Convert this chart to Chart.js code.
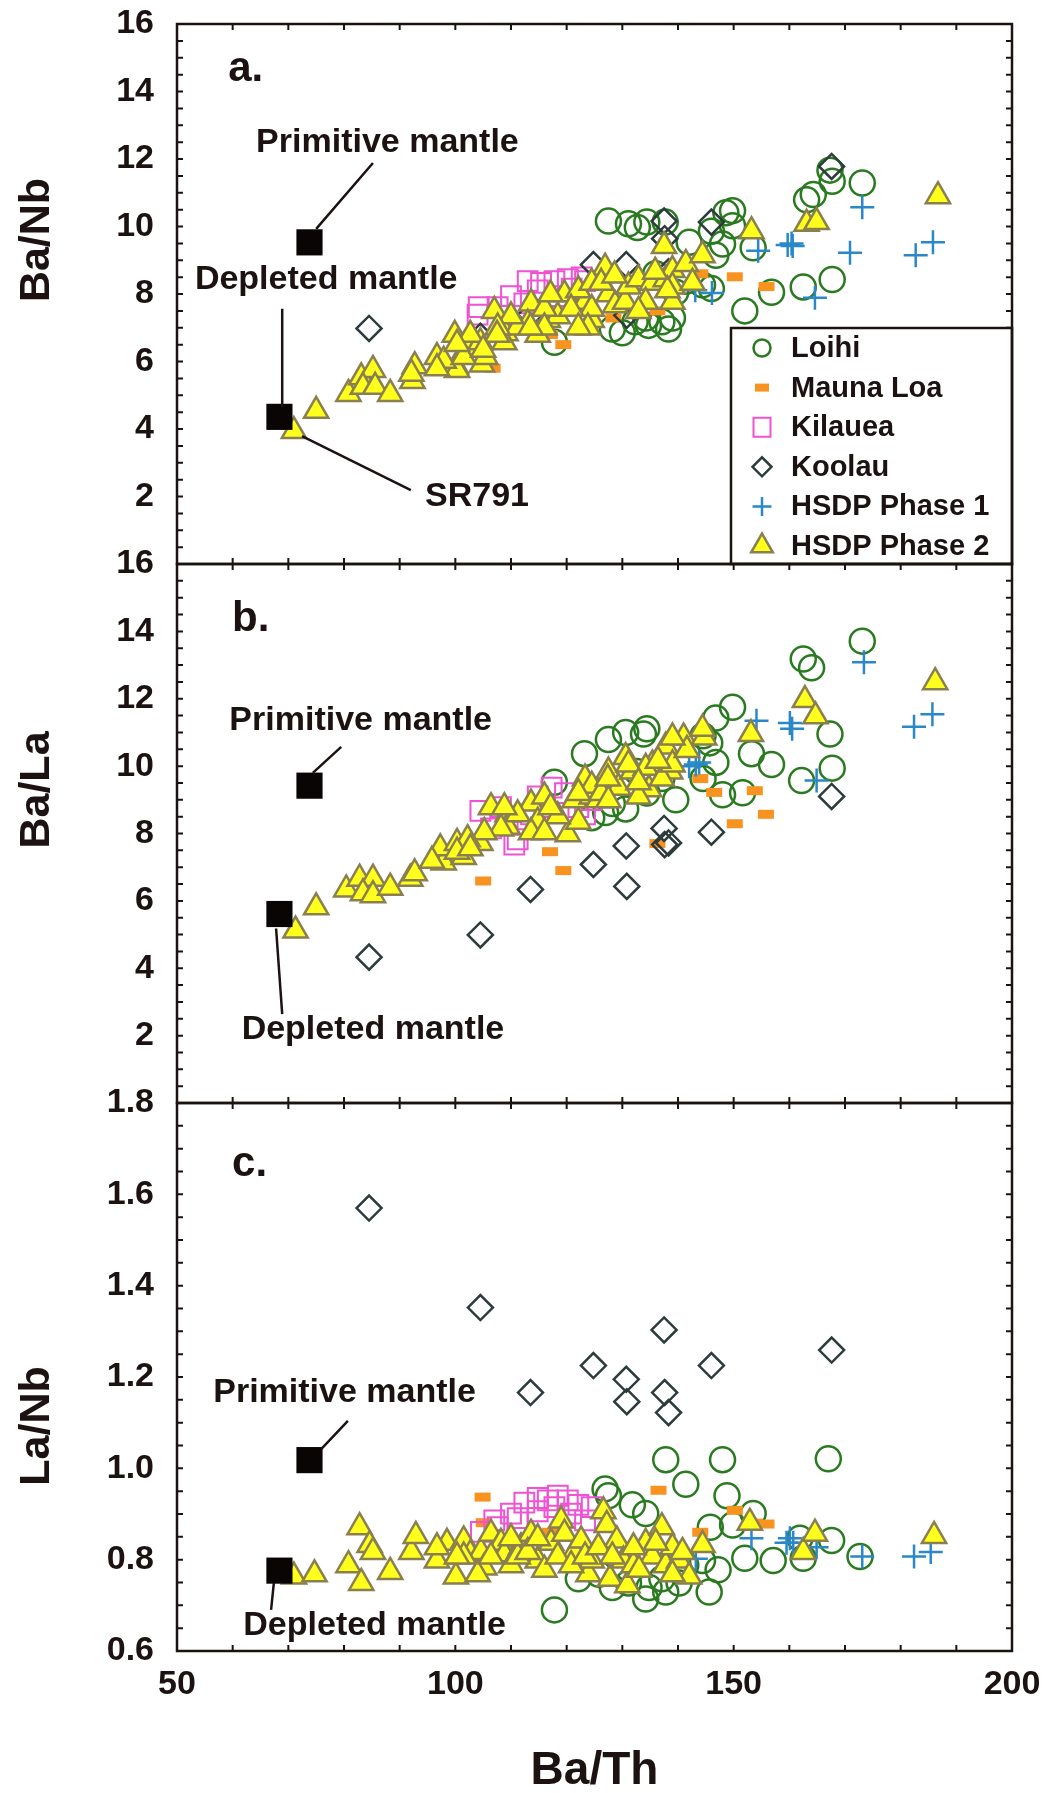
<!DOCTYPE html>
<html lang="en">
<head>
<meta charset="UTF-8">
<title>Ba/Th vs Ba/Nb, Ba/La and La/Nb</title>
<script src="https://cdn.jsdelivr.net/npm/chart.js"></script>
<style>
  body { margin: 0; background: #fff; }
  .page { position: relative; width: 1054px; height: 1793px; overflow: hidden; background: #fff; }
  canvas { position: absolute; left: 0; }
  #panelA { top: 0; }
  #panelB { top: 530px; }
  #panelC { top: 1070px; }
</style>
</head>
<body>
<div class="page">
  <canvas id="panelA" width="1054" height="600"></canvas>
  <canvas id="panelB" width="1054" height="610"></canvas>
  <canvas id="panelC" width="1054" height="723"></canvas>
</div>
<script>
// ---- tick labels ----
const baThTicks = [50, 100, 150, 200];
const baNbTicks = [2, 4, 6, 8, 10, 12, 14, 16];
const baLaTicks = [2, 4, 6, 8, 10, 12, 14, 16];
const laNbTicks = [0.6, 0.8, 1.0, 1.2, 1.4, 1.6, 1.8];

// ---- reference compositions (primitive, depleted) ----
const mantleBaTh = [73.8, 68.4];
const mantleBaNb = [9.53, 4.36];
const mantleBaLa = [9.42, 5.61];
const mantleLaNb = [1.018, 0.776];

// ---- Loihi ----
const loihiBaTh_a = [127.5, 131.1, 134.4, 132.7, 137.7, 142.0, 146.0, 148.6, 149.8, 148.0, 146.8, 141.4, 139.6, 146.0, 152.0, 156.8, 162.5, 167.7, 163.1, 164.3, 167.7, 173.1, 167.3, 136.0, 132.3, 134.7, 137.1, 138.3, 130.0, 128.2, 117.8, 134.2, 139.0, 144.4, 153.5, 149.8];
const loihiBaNb = [10.16, 10.08, 10.13, 9.97, 10.13, 9.53, 9.86, 10.41, 10.47, 9.48, 9.15, 8.38, 8.05, 8.16, 7.50, 8.05, 8.21, 8.43, 10.79, 10.95, 11.34, 11.29, 11.67, 8.6, 7.18, 7.07, 7.18, 6.96, 6.85, 6.96, 6.57, 7.29, 7.29, 8.27, 9.37, 10.02];
const loihiBaTh_b = [173.1, 162.5, 164.0, 149.8, 146.8, 167.3, 167.7, 162.2, 156.8, 153.2, 146.8, 148.0, 151.6, 134.4, 133.8, 127.5, 130.6, 123.2, 139.6, 130.6, 124.5, 127.0, 117.8, 132.6, 137.1, 145.7, 144.5, 134.4, 128.2, 144.5];
const loihiBaLa = [13.71, 13.18, 12.92, 11.75, 11.43, 10.95, 9.94, 9.57, 10.05, 10.37, 10.11, 9.15, 9.21, 11.11, 10.95, 10.79, 11.0, 10.37, 9.0, 8.73, 8.47, 8.62, 9.52, 9.84, 9.63, 10.69, 9.63, 9.2, 8.89, 10.9];
const loihiBaTh_c = [117.8, 137.8, 148.0, 167.0, 141.4, 148.8, 126.9, 127.5, 131.8, 134.2, 149.8, 153.5, 145.8, 167.6, 162.5, 161.9, 152.0, 157.1, 172.7, 147.2, 145.6, 134.2, 134.8, 137.8, 137.1, 140.2, 131.1, 128.2, 125.8, 122.1, 144.4, 141.4];
const loihiLaNb = [0.690, 1.019, 1.019, 1.021, 0.965, 0.940, 0.955, 0.940, 0.920, 0.901, 0.876, 0.901, 0.871, 0.842, 0.803, 0.847, 0.803, 0.798, 0.807, 0.778, 0.729, 0.714, 0.739, 0.729, 0.758, 0.749, 0.749, 0.739, 0.768, 0.758, 0.798, 0.788];

// ---- Mauna Loa ----
const maunaLoaBaTh_a = [106.7, 117.0, 119.4, 128.4, 136.3, 144.0, 150.2, 155.9];
const maunaLoaBaNb = [5.8, 6.8, 6.5, 7.29, 7.5, 8.6, 8.51, 8.22];
const maunaLoaBaTh_b = [105.0, 117.0, 119.4, 136.3, 144.0, 146.5, 150.2, 153.8, 155.8];
const maunaLoaBaLa = [6.59, 7.46, 6.90, 7.70, 9.63, 9.22, 8.29, 9.27, 8.57];
const maunaLoaBaTh_c = [104.9, 105.1, 117.0, 119.4, 136.5, 144.0, 150.2, 153.8, 155.9];
const maunaLoaLaNb = [0.937, 0.881, 0.86, 0.87, 0.952, 0.86, 0.908, 0.88, 0.878];

// ---- Kilauea ----
const kilaueaBaTh_a = [104.0, 104.2, 107.6, 110.0, 112.4, 113.0, 114.8, 115.4, 117.8, 118.4, 120.2, 120.9, 122.7, 123.3];
const kilaueaBaNb = [7.39, 7.61, 7.61, 7.94, 7.72, 8.38, 8.11, 8.33, 8.38, 7.94, 8.44, 8.16, 8.49, 8.38];
const kilaueaBaTh_b = [104.5, 106.4, 108.2, 109.4, 110.6, 111.2, 113.6, 114.8, 116.0, 117.3, 119.7, 122.1, 123.3, 124.5];
const kilaueaBaLa = [8.67, 8.15, 8.78, 8.36, 7.67, 7.83, 8.57, 9.10, 8.78, 9.36, 9.20, 8.78, 8.57, 8.99];
const kilaueaBaTh_c = [104.6, 107.0, 107.6, 110.0, 111.2, 112.4, 114.8, 114.8, 116.6, 117.8, 118.4, 120.2, 120.8, 122.1, 123.3, 124.5];
const kilaueaLaNb = [0.861, 0.886, 0.871, 0.901, 0.891, 0.925, 0.935, 0.906, 0.930, 0.915, 0.940, 0.930, 0.901, 0.920, 0.886, 0.915];

// ---- Koolau (same samples in every panel) ----
const koolauBaTh = [84.5, 104.5, 113.5, 124.8, 130.7, 130.8, 137.5, 137.6, 138.3, 146.0, 167.6];
const koolauBaNb = [6.98, 6.75, 7.39, 8.87, 8.87, 7.37, 10.16, 9.64, 8.66, 10.13, 11.78];
const koolauBaLa = [4.33, 4.99, 6.34, 7.08, 7.63, 6.43, 8.15, 7.67, 7.72, 8.04, 9.10];
const koolauLaNb = [1.570, 1.352, 1.166, 1.225, 1.195, 1.146, 1.303, 1.166, 1.122, 1.225, 1.259];

// ---- HSDP Phase 1 ----
const hsdp1BaTh_a = [143.1, 146.1, 154.4, 159.7, 160.4, 160.6, 164.6, 170.9, 173.1, 182.7, 185.8];
const hsdp1BaNb = [8.11, 8.03, 9.28, 9.45, 9.50, 9.42, 7.89, 9.22, 10.57, 9.15, 9.53];
const hsdp1BaTh_b = [142.0, 143.2, 143.8, 154.1, 160.1, 160.5, 164.9, 173.4, 182.4, 185.7];
const hsdp1BaLa = [10.0, 10.05, 10.11, 11.35, 11.28, 11.11, 9.57, 13.08, 11.17, 11.54];
const hsdp1BaTh_c = [139.0, 143.2, 153.2, 159.5, 160.1, 160.7, 164.9, 173.1, 182.4, 185.4];
const hsdp1LaNb = [0.807, 0.802, 0.847, 0.837, 0.847, 0.837, 0.827, 0.807, 0.807, 0.817];

// ---- HSDP Phase 2 ----
const hsdp2BaTh_a = [71.0, 75.0, 80.8, 83.1, 85.2, 83.4, 85.6, 88.3, 92.3, 92.7, 96.7, 99.9, 100.1, 100.3, 97.9, 102.7, 104.5, 104.8, 105.4, 107.0, 109.0, 108.8, 113.6, 113.0, 114.8, 116.6, 118.4, 119.6, 123.3, 124.5, 124.5, 126.9, 127.5, 128.7, 130.5, 131.1, 132.9, 135.3, 137.5, 137.8, 139.0, 139.0, 139.0, 141.4, 142.6, 144.4, 153.2, 163.1, 164.9, 186.7, 122.1, 116.0, 124.5, 120.8, 111.2, 110.0, 107.6, 102.7, 101.5, 96.7, 92.1, 134.2, 132.9, 123.8, 122.1, 116.0, 113.5, 107.5, 105.0, 100.3, 117.1, 126.2, 128.6, 138.1, 135.9];
const hsdp2BaNb = [3.94, 4.54, 5.04, 5.53, 5.75, 5.25, 5.25, 5.04, 5.42, 5.86, 6.13, 6.79, 5.86, 5.75, 6.02, 6.41, 6.57, 5.91, 6.13, 7.50, 6.84, 6.57, 7.72, 7.12, 6.79, 7.23, 7.34, 7.99, 7.77, 7.23, 7.56, 8.78, 7.99, 7.67, 7.77, 8.22, 8.44, 8.33, 9.42, 8.44, 8.71, 8.22, 7.77, 8.89, 8.33, 9.15, 9.86, 10.08, 10.13, 10.90, 8.11, 7.56, 8.33, 7.56, 7.01, 7.34, 7.01, 6.79, 6.13, 5.80, 5.64, 7.77, 7.50, 7.01, 7.01, 7.01, 7.01, 6.79, 6.35, 6.52, 7.99, 8.33, 8.55, 8.11, 8.66];
const hsdp2BaTh_b = [71.3, 75.0, 80.4, 82.8, 85.2, 83.4, 85.2, 88.3, 91.9, 92.7, 97.9, 97.3, 100.3, 101.5, 104.5, 106.4, 109.4, 109.4, 113.6, 116.0, 114.8, 120.2, 121.4, 123.3, 124.5, 127.5, 129.3, 130.6, 131.8, 134.8, 135.4, 137.8, 138.6, 141.0, 144.7, 153.1, 162.8, 164.7, 186.2, 124.5, 125.7, 122.1, 118.4, 113.6, 111.2, 108.2, 105.2, 102.2, 100.3, 102.7, 95.8, 132.9, 134.2, 137.1, 139.0, 126.2, 127.4, 122.1, 117.1, 108.8, 116.0, 131.1, 132.9, 141.6, 139.0, 144.4, 136.4, 127.5];
const hsdp2BaLa = [5.12, 5.81, 6.34, 6.66, 6.66, 6.23, 6.17, 6.39, 6.66, 6.82, 7.14, 7.56, 7.72, 7.30, 7.72, 8.78, 8.57, 8.20, 8.89, 9.10, 8.35, 7.98, 8.99, 9.63, 9.10, 9.84, 9.36, 10.27, 9.84, 9.31, 10.05, 10.58, 9.84, 10.85, 10.85, 10.95, 11.96, 11.48, 12.49, 9.42, 8.99, 8.35, 8.51, 8.04, 8.57, 8.15, 8.04, 7.83, 7.46, 7.56, 7.19, 9.10, 9.95, 9.63, 10.05, 9.20, 9.63, 9.20, 8.78, 8.78, 8.04, 10.05, 9.52, 10.48, 10.85, 11.11, 10.16, 8.99];
const hsdp2BaTh_c = [71.0, 74.7, 80.8, 82.8, 83.1, 84.6, 85.2, 88.3, 92.1, 92.9, 96.7, 98.5, 100.1, 101.5, 102.7, 104.6, 105.2, 106.4, 108.2, 108.8, 110.0, 111.8, 113.6, 114.8, 116.0, 117.2, 119.0, 119.6, 121.4, 122.6, 123.9, 124.5, 126.6, 127.2, 127.8, 129.0, 130.2, 130.9, 132.0, 134.2, 135.4, 137.1, 137.8, 139.0, 140.2, 142.0, 144.4, 152.9, 162.5, 164.6, 186.0, 101.5, 104.0, 106.4, 111.2, 113.0, 114.8, 118.4, 120.8, 123.3, 125.7, 128.2, 133.0, 136.0, 139.0, 140.8, 132.0, 110.0, 96.7, 100.3];
const hsdp2LaNb = [0.763, 0.768, 0.788, 0.871, 0.749, 0.832, 0.817, 0.773, 0.817, 0.852, 0.798, 0.837, 0.763, 0.842, 0.812, 0.817, 0.783, 0.857, 0.837, 0.812, 0.788, 0.827, 0.857, 0.798, 0.778, 0.837, 0.886, 0.857, 0.817, 0.842, 0.768, 0.798, 0.906, 0.876, 0.758, 0.842, 0.798, 0.744, 0.788, 0.837, 0.807, 0.871, 0.788, 0.827, 0.798, 0.763, 0.832, 0.881, 0.817, 0.857, 0.852, 0.807, 0.768, 0.807, 0.807, 0.817, 0.847, 0.807, 0.788, 0.807, 0.827, 0.807, 0.778, 0.837, 0.768, 0.817, 0.827, 0.847, 0.827, 0.807];

// ---- look ----
const INK = '#1c1212';
const FONT = "'Liberation Sans', Arial, Helvetica, sans-serif";
Chart.defaults.font.family = FONT;
Chart.defaults.color = INK;

const styles = {
  loihi:    { label: 'Loihi', pointStyle: 'circle', radius: 12.5, borderWidth: 2.5, borderColor: '#2a7a20', backgroundColor: 'rgba(0,0,0,0)', order: 6, legendSize: 8.5 },
  maunaLoa: { label: 'Mauna Loa', pointStyle: 'line', radius: 8, borderWidth: 9, borderColor: '#f7931e', backgroundColor: 'rgba(0,0,0,0)', order: 5, legendSize: 7, legendWidth: 8 },
  kilauea:  { label: 'Kilauea', pointStyle: 'rect', radius: 14, borderWidth: 2, borderColor: '#ef52d2', backgroundColor: 'rgba(0,0,0,0)', order: 4, legendSize: 8.5 },
  koolau:   { label: 'Koolau', pointStyle: 'rectRot', radius: 12.5, borderWidth: 2.5, borderColor: '#2c3c3c', backgroundColor: 'rgba(0,0,0,0)', order: 3, legendSize: 9.5 },
  hsdp1:    { label: 'HSDP Phase 1', pointStyle: 'cross', radius: 12, borderWidth: 2.5, borderColor: '#2a88c8', backgroundColor: 'rgba(0,0,0,0)', order: 2, legendSize: 9.5 },
  hsdp2:    { label: 'HSDP Phase 2', pointStyle: 'triangle', radius: 14, borderWidth: 2.5, borderColor: '#8a7f4e', backgroundColor: '#ffff1e', order: 1, legendSize: 12.5 },
  mantle:   { label: 'mantle', pointStyle: 'rect', radius: 18.5, borderWidth: 0, borderColor: '#000', backgroundColor: '#0a0505', order: 0 }
};
const legendKeys = ['loihi', 'maunaLoa', 'kilauea', 'koolau', 'hsdp1', 'hsdp2'];

function series(key, xs, ys) {
  const s = styles[key];
  return {
    label: s.label,
    data: xs.map((x, i) => ({ x: x, y: ys[i] })),
    pointStyle: s.pointStyle,
    pointRadius: s.radius,
    pointHoverRadius: s.radius,
    pointBorderWidth: s.borderWidth,
    pointBorderColor: s.borderColor,
    pointBackgroundColor: s.backgroundColor,
    borderColor: s.borderColor,
    backgroundColor: s.backgroundColor,
    showLine: false,
    order: s.order
  };
}

function drawSymbol(ctx, s, x, y) {
  const r = s.legendSize;
  ctx.save();
  ctx.lineWidth = s.legendWidth || s.borderWidth;
  ctx.strokeStyle = s.borderColor;
  ctx.fillStyle = s.backgroundColor;
  ctx.beginPath();
  switch (s.pointStyle) {
    case 'circle': ctx.arc(x, y, r, 0, Math.PI * 2); break;
    case 'line': ctx.moveTo(x - r, y); ctx.lineTo(x + r, y); break;
    case 'rect': ctx.rect(x - r, y - r - 1, 2 * r, 2 * r + 2); break;
    case 'rectRot': ctx.moveTo(x - r, y); ctx.lineTo(x, y - r); ctx.lineTo(x + r, y); ctx.lineTo(x, y + r); ctx.closePath(); break;
    case 'cross': ctx.moveTo(x - r, y); ctx.lineTo(x + r, y); ctx.moveTo(x, y - r); ctx.lineTo(x, y + r); break;
    case 'triangle': ctx.moveTo(x, y - r); ctx.lineTo(x + r * 0.866, y + r / 2); ctx.lineTo(x - r * 0.866, y + r / 2); ctx.closePath(); break;
  }
  ctx.fill();
  ctx.stroke();
  ctx.restore();
}

// frame, inward ticks, notes, y title and legend
const panelDecor = {
  id: 'panelDecor',
  afterDatasetsDraw(chart, args, o) {
    const { ctx, chartArea: a, scales } = chart;
    const x = scales.x, y = scales.y;
    ctx.save();
    ctx.strokeStyle = INK;
    ctx.fillStyle = INK;

    // inward ticks
    ctx.lineWidth = 2;
    ctx.beginPath();
    const nx = Math.round((x.max - x.min) / o.xMinor);
    for (let i = 1; i < nx; i++) {
      const px = x.getPixelForValue(x.min + i * o.xMinor);
      ctx.moveTo(px, a.top); ctx.lineTo(px, a.top + 6);
      ctx.moveTo(px, a.bottom); ctx.lineTo(px, a.bottom - 6);
    }
    const ny = Math.round((y.max - y.min) / o.yMinor);
    for (let i = 1; i < ny; i++) {
      const py = y.getPixelForValue(y.min + i * o.yMinor);
      ctx.moveTo(a.left, py); ctx.lineTo(a.left + 6, py);
      ctx.moveTo(a.right, py); ctx.lineTo(a.right - 6, py);
    }
    ctx.stroke();

    // leader lines
    ctx.lineWidth = 2.5;
    ctx.beginPath();
    o.leaders.forEach(l => {
      ctx.moveTo(x.getPixelForValue(l[0]), y.getPixelForValue(l[1]));
      ctx.lineTo(x.getPixelForValue(l[2]), y.getPixelForValue(l[3]));
    });
    ctx.stroke();

    // notes
    ctx.font = 'bold 34px ' + FONT;
    ctx.textAlign = 'center';
    ctx.textBaseline = 'middle';
    o.notes.forEach(n => ctx.fillText(n[0], x.getPixelForValue(n[1]), y.getPixelForValue(n[2])));

    // panel letter
    ctx.font = 'bold 42px ' + FONT;
    ctx.textAlign = 'left';
    ctx.fillText(o.letter[0], x.getPixelForValue(o.letter[1]), y.getPixelForValue(o.letter[2]));

    // y axis title
    ctx.save();
    ctx.translate(37, a.top + o.yTitleDy);
    ctx.rotate(-Math.PI / 2);
    ctx.font = 'bold 43px ' + FONT;
    ctx.textAlign = 'center';
    ctx.fillText(o.yTitle, 0, 0);
    ctx.restore();

    // legend box
    if (o.legend) {
      const bw = 281, bh = 236;
      const bx = a.right - bw, by = a.bottom - bh;
      ctx.fillStyle = '#fff';
      ctx.fillRect(bx, by, bw, bh);
      ctx.lineWidth = 2.5;
      ctx.strokeRect(bx, by, bw, bh);
      ctx.font = 'bold 29px ' + FONT;
      ctx.textAlign = 'left';
      ctx.fillStyle = INK;
      legendKeys.forEach((k, i) => {
        const ry = by + 20 + i * 39.6;
        drawSymbol(ctx, styles[k], bx + 31, ry);
        ctx.fillStyle = INK;
        ctx.fillText(styles[k].label, bx + 60, ry + 1);
      });
    }

    // frame
    ctx.lineWidth = 2.5;
    ctx.strokeStyle = INK;
    ctx.strokeRect(a.left, a.top, a.right - a.left, a.bottom - a.top);
    ctx.restore();
  }
};

function makePanel(p) {
  const tickFont = { size: 34, weight: 'bold' };
  new Chart(document.getElementById(p.id), {
    type: 'scatter',
    data: { datasets: p.datasets },
    options: {
      responsive: false,
      animation: false,
      events: [],
      layout: { padding: { left: 0, right: 42, top: p.padTop, bottom: p.padBottom } },
      plugins: {
        legend: { display: false },
        tooltip: { enabled: false },
        panelDecor: p.decor
      },
      scales: {
        x: {
          type: 'linear',
          min: 50,
          max: 200,
          display: p.showX,
          afterBuildTicks: s => { s.ticks = baThTicks.map(v => ({ value: v })); },
          afterFit: s => { if (p.showX) s.height = 142; },
          ticks: { font: tickFont, color: INK, padding: 0, maxRotation: 0, autoSkip: false },
          // tick marks are drawn by panelDecor; tickLength only spaces the labels
          grid: { display: false, drawTicks: true, tickLength: 13 },
          border: { display: false },
          title: { display: true, text: 'Ba/Th', color: INK, font: { size: 46, weight: 'bold' }, padding: { top: 0, bottom: -6 } }
        },
        y: {
          type: 'linear',
          min: p.yMin,
          max: p.yMax,
          afterBuildTicks: s => { s.ticks = p.yTicks.map(v => ({ value: v })); },
          afterFit: s => { s.width = 177; },
          ticks: { font: tickFont, color: INK, padding: 0, autoSkip: false, callback: v => v.toFixed(p.digits) },
          grid: { display: false, drawTicks: true, tickLength: 23 },
          border: { display: false }
        }
      }
    },
    plugins: [panelDecor]
  });
}

makePanel({
  id: 'panelA', padTop: 24, padBottom: 36, yMin: 0, yMax: 16, yTicks: baNbTicks, digits: 0, showX: false,
  datasets: [
    series('mantle', mantleBaTh, mantleBaNb),
    series('hsdp2', hsdp2BaTh_a, hsdp2BaNb),
    series('hsdp1', hsdp1BaTh_a, hsdp1BaNb),
    series('koolau', koolauBaTh, koolauBaNb),
    series('kilauea', kilaueaBaTh_a, kilaueaBaNb),
    series('maunaLoa', maunaLoaBaTh_a, maunaLoaBaNb),
    series('loihi', loihiBaTh_a, loihiBaNb)
  ],
  decor: {
    xMinor: 10, yMinor: 0.5, yTitle: 'Ba/Nb', yTitleDy: 216, legend: true,
    letter: ['a.', 59.2, 14.64],
    notes: [['Primitive mantle', 87.8, 12.5], ['Depleted mantle', 76.8, 8.44], ['SR791', 103.9, 2.0]],
    leaders: [[85.2, 11.88, 75.0, 9.93], [68.9, 7.56, 68.9, 4.65], [72.45, 3.79, 92.0, 2.19]]
  }
});

makePanel({
  id: 'panelB', padTop: 34, padBottom: 37, yMin: 0, yMax: 16, yTicks: baLaTicks, digits: 0, showX: false,
  datasets: [
    series('mantle', mantleBaTh, mantleBaLa),
    series('hsdp2', hsdp2BaTh_b, hsdp2BaLa),
    series('hsdp1', hsdp1BaTh_b, hsdp1BaLa),
    series('koolau', koolauBaTh, koolauBaLa),
    series('kilauea', kilaueaBaTh_b, kilaueaBaLa),
    series('maunaLoa', maunaLoaBaTh_b, maunaLoaBaLa),
    series('loihi', loihiBaTh_b, loihiBaLa)
  ],
  decor: {
    xMinor: 10, yMinor: 0.5, yTitle: 'Ba/La', yTitleDy: 226, legend: false,
    letter: ['b.', 59.9, 14.34],
    notes: [['Primitive mantle', 83.0, 11.34], ['Depleted mantle', 85.2, 2.17]],
    leaders: [[79.5, 10.57, 74.4, 9.80], [67.8, 5.18, 68.9, 2.64]]
  }
});

makePanel({
  id: 'panelC', padTop: 33, padBottom: 0, yMin: 0.6, yMax: 1.8, yTicks: laNbTicks, digits: 1, showX: true,
  datasets: [
    series('mantle', mantleBaTh, mantleLaNb),
    series('hsdp2', hsdp2BaTh_c, hsdp2LaNb),
    series('hsdp1', hsdp1BaTh_c, hsdp1LaNb),
    series('koolau', koolauBaTh, koolauLaNb),
    series('kilauea', kilaueaBaTh_c, kilaueaLaNb),
    series('maunaLoa', maunaLoaBaTh_c, maunaLoaLaNb),
    series('loihi', loihiBaTh_c, loihiLaNb)
  ],
  decor: {
    xMinor: 10, yMinor: 0.05, yTitle: 'La/Nb', yTitleDy: 323, legend: false,
    letter: ['c.', 59.9, 1.666],
    notes: [['Primitive mantle', 80.1, 1.165], ['Depleted mantle', 85.5, 0.655]],
    leaders: [[80.7, 1.104, 75.9, 1.042], [67.4, 0.749, 66.9, 0.690]]
  }
});
</script>
</body>
</html>
